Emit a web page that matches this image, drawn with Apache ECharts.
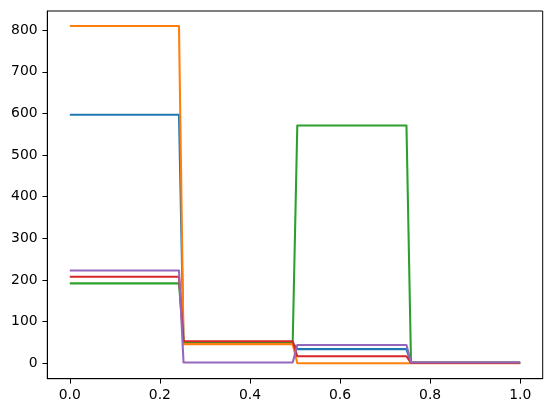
<!DOCTYPE html>
<html>
<head>
<meta charset="utf-8">
<script src="https://cdn.jsdelivr.net/npm/echarts@6/dist/echarts.min.js"></script>
<style>html,body{margin:0;padding:0;background:#fff;}#c{width:552px;height:413px;}</style>
</head>
<body>
<div id="c"></div>
<script>
// x positions of the segment boundaries (sample points 0, 24, 25, 49, 50, 74, 75, 99 of 100)
var xs = [0, 0.2424, 0.2525, 0.4949, 0.5051, 0.7475, 0.7576, 1.0];
var blue   = [597, 597, 50, 50, 34, 34, 1, 1];
var orange = [810, 810, 46, 46, 0, 0, 0, 0];
var green  = [192, 192, 51, 51, 571, 571, 2, 2];
var red    = [208, 208, 53, 53, 17, 17, 1, 1];
var purple = [223, 223, 2, 2, 44, 44, 2, 2];
var xTicks = [0, 0.2, 0.4, 0.6, 0.8, 1.0];
var yTicks = [0, 100, 200, 300, 400, 500, 600, 700, 800];
var colors = ['#1f77b4', '#ff7f0e', '#2ca02c', '#d62728', '#9467bd'];
var seriesVals = [blue, orange, green, red, purple];

function pts(v) { return xs.map(function (x, i) { return [x, v[i]]; }); }

var chart = echarts.init(document.getElementById('c'), null, {renderer: 'canvas'});
var font = {fontFamily: 'DejaVu Sans', fontSize: 13.9, color: '#000'};
chart.setOption({
  animation: false,
  backgroundColor: '#fff',
  grid: {left: 47.3, right: 9.3, top: 11, bottom: 34.3, show: true, borderColor: '#000', borderWidth: 1, backgroundColor: 'transparent'},
  xAxis: {
    type: 'value', min: -0.05, max: 1.05,
    axisLine: {show: true, onZero: false, lineStyle: {color: '#000', width: 1}},
    axisTick: {show: true, length: 4.9, inside: false, customValues: xTicks, lineStyle: {color: '#000', width: 1}},
    axisLabel: Object.assign({customValues: xTicks, margin: 9.7, formatter: function (v) { return v.toFixed(1); }}, font),
    splitLine: {show: false}
  },
  yAxis: {
    type: 'value', min: -37, max: 846,
    axisLine: {show: true, onZero: false, lineStyle: {color: '#000', width: 1}},
    axisTick: {show: true, length: 4.9, inside: false, customValues: yTicks, lineStyle: {color: '#000', width: 1}},
    axisLabel: Object.assign({customValues: yTicks, margin: 9.7}, font),
    splitLine: {show: false}
  },
  series: seriesVals.map(function (v, i) {
    return {type: 'line', data: pts(v), showSymbol: false, symbol: 'none', z: 2 + i,
      lineStyle: {color: colors[i], width: 2.08, join: 'round', cap: 'butt'}, itemStyle: {color: colors[i]}};
  })
});
</script>
</body>
</html>
